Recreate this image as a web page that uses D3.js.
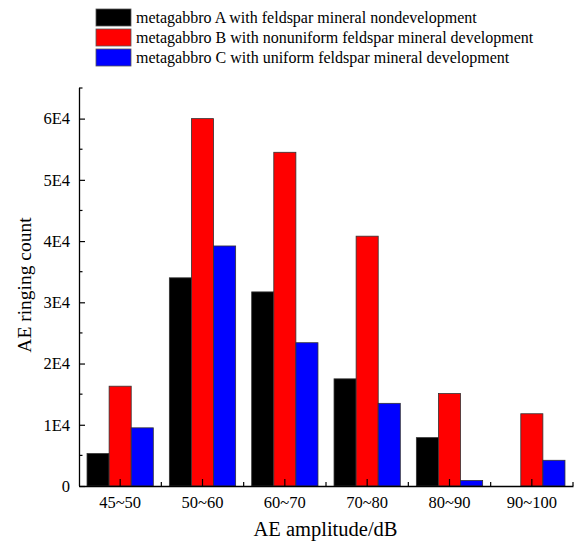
<!DOCTYPE html>
<html>
<head>
<meta charset="utf-8">
<script src="https://cdn.jsdelivr.net/npm/d3@7/dist/d3.min.js"></script>
<style>
  html, body { margin: 0; padding: 0; background: #fff; }
  svg { display: block; font-family: "Liberation Serif", "Times New Roman", serif; }
  svg text { font-family: "Liberation Serif", "Times New Roman", serif; }
</style>
</head>
<body>
<svg id="chart" width="579" height="542"></svg>
<script>
// Amplitude bins (dB)
const categories = ["45~50", "50~60", "60~70", "70~80", "80~90", "90~100"];
// Series names, in legend order
const seriesNames = [
  "metagabbro A with feldspar mineral nondevelopment",
  "metagabbro B with nonuniform feldspar mineral development",
  "metagabbro C with uniform feldspar mineral development"
];
const seriesColors = ["#000000", "#ff0000", "#0000ff"];
// AE ringing counts per bin
const countsA = [5300, 34000, 31700, 17500, 7900, 0];
const countsB = [16300, 60000, 54500, 40800, 15100, 11800];
const countsC = [9500, 39200, 23400, 13500, 900, 4200];
const yTickValues = [0, 10000, 20000, 30000, 40000, 50000, 60000];
const yMinorValues = [5000, 15000, 25000, 35000, 45000, 55000, 65000];

const seriesValues = [countsA, countsB, countsC];

const svg = d3.select("#chart");
const plotL = 79, plotR = 573, plotT = 88, plotB = 486;

const x0 = d3.scaleBand().domain(categories).range([plotL, plotR]).padding(0);
const groupW = x0.bandwidth() * 0.805;
const x1 = d3.scaleBand().domain(d3.range(seriesNames.length))
  .range([-groupW / 2, groupW / 2]).padding(0);
const y = d3.scaleLinear().domain([0, 65000]).range([plotB, plotT]);

// Bars
const groups = svg.append("g").selectAll("g")
  .data(categories)
  .join("g")
  .attr("transform", d => `translate(${x0(d) + x0.bandwidth() / 2},0)`);

groups.selectAll("rect")
  .data((c, i) => seriesValues.map((vals, s) => ({ s, v: vals[i] })).filter(d => d.v > 0))
  .join("rect")
  .attr("x", d => x1(d.s))
  .attr("width", x1.bandwidth())
  .attr("y", d => y(d.v))
  .attr("height", d => y(0) - y(d.v))
  .attr("fill", d => seriesColors[d.s])
  .attr("stroke", "#333")
  .attr("stroke-width", 0.8);

// Y axis: major and minor ticks pointing inward
const yAxis = d3.axisRight(y).tickValues(yTickValues).tickSize(6)
  .tickFormat(d => d === 0 ? "0" : (d / 10000) + "E4");
const gy = svg.append("g").attr("transform", `translate(${plotL},0)`).call(yAxis)
  .attr("font-family", null).attr("font-size", 16.5);
gy.select(".domain").attr("d", `M0.5,${plotT}V${plotB}`).attr("stroke", "#000").attr("stroke-width", 1.3);
gy.selectAll(".tick line").attr("stroke", "#000").attr("stroke-width", 1.2);
gy.selectAll(".tick text")
  .attr("x", -9).attr("text-anchor", "end").attr("fill", "#000");
svg.append("g").selectAll("line").data(yMinorValues).join("line")
  .attr("x1", plotL).attr("x2", plotL + 3.5)
  .attr("y1", d => y(d)).attr("y2", d => y(d))
  .attr("stroke", "#000").attr("stroke-width", 1.2);

// X axis: ticks at bin centres, short marks at bin edges
const xAxis = d3.axisBottom(x0).tickSize(-7).tickSizeOuter(0);
const gx = svg.append("g").attr("transform", `translate(0,${plotB})`).call(xAxis)
  .attr("font-family", null).attr("font-size", 16.5);
gx.select(".domain").attr("stroke", "#000").attr("stroke-width", 1.3);
gx.selectAll(".tick line").attr("stroke", "#000").attr("stroke-width", 1.2);
gx.selectAll(".tick text")
  .attr("y", 22).attr("dy", 0).attr("fill", "#000");
const edges = categories.map(c => x0(c) + x0.bandwidth());
svg.append("g").selectAll("line").data(edges).join("line")
  .attr("x1", d => d).attr("x2", d => d)
  .attr("y1", plotB).attr("y2", plotB - 4)
  .attr("stroke", "#000").attr("stroke-width", 1.2);

// Axis titles
svg.append("text")
  .attr("x", 325.5).attr("y", 536)
  .attr("text-anchor", "middle").attr("font-size", 20.5).attr("fill", "#000")
  .text("AE amplitude/dB");
svg.append("text")
  .attr("transform", `translate(31,285) rotate(-90)`)
  .attr("text-anchor", "middle").attr("font-size", 19.5).attr("fill", "#000")
  .text("AE ringing count");

// Legend
const legend = svg.append("g").attr("transform", "translate(96,9)");
const items = legend.selectAll("g").data(seriesNames).join("g")
  .attr("transform", (d, i) => `translate(0,${i * 20})`);
items.append("rect")
  .attr("width", 35).attr("height", 17)
  .attr("fill", (d, i) => seriesColors[i])
  .attr("stroke", "#555").attr("stroke-width", 0.8);
items.append("text")
  .attr("x", 40).attr("y", 14)
  .attr("font-size", 16).attr("fill", "#000")
  .text(d => d);
</script>
</body>
</html>
